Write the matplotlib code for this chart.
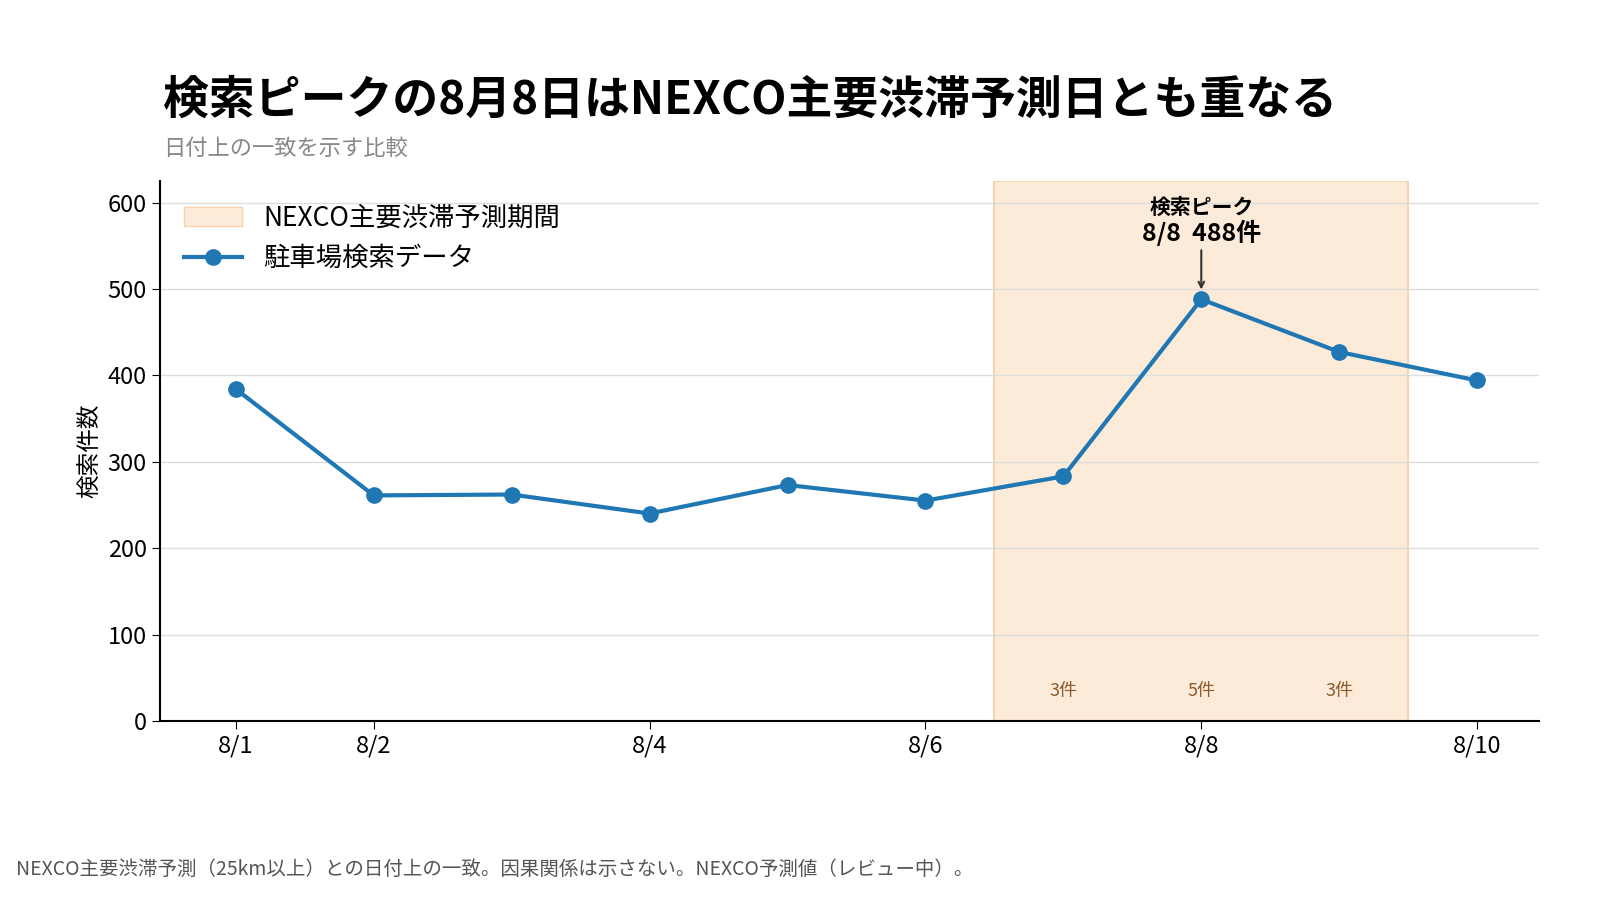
import matplotlib.pyplot as plt
from matplotlib.patches import Patch
from matplotlib.lines import Line2D

plt.rcParams['font.family'] = ['Noto Sans CJK JP', 'DejaVu Sans']

days = [1, 2, 3, 4, 5, 6, 7, 8, 9, 10]
searches = [384, 261, 262, 240, 273, 255, 283, 488, 427, 394]
tick_days = [1, 2, 4, 6, 8, 10]
tick_labels = ['8/1', '8/2', '8/4', '8/6', '8/8', '8/10']
nexco_days = [7, 8, 9]
nexco_counts = ['3件', '5件', '3件']

fig = plt.figure(figsize=(16, 9), dpi=100)
ax = fig.add_axes([0.100, 0.199, 0.862, 0.600])

ax.axvspan(min(nexco_days) - 0.5, max(nexco_days) + 0.5, color='#fdebd9',
           ec='#f8d3ad', lw=1.5, zorder=0)
ax.plot(days, searches, color='#1f77b4', lw=3, marker='o', ms=11, zorder=3)
for d, c in zip(nexco_days, nexco_counts):
    ax.text(d, 35, c, ha='center', va='center', fontsize=13, color='#8c5a2b')

peak = searches.index(max(searches))
ax.annotate('', xy=(days[peak], searches[peak] + 8), xytext=(days[peak], 548),
            arrowprops=dict(arrowstyle='->', color='#333333', lw=1.5))
ax.text(days[peak], 582, '検索ピーク', ha='center', va='bottom', fontsize=15, fontweight='bold')
ax.text(days[peak], 580, f'8/8  {max(searches)}件', ha='center', va='top', fontsize=18, fontweight='bold')

ax.set_xlim(0.45, 10.45)
ax.set_ylim(0, 625)
ax.set_yticks(range(0, 601, 100))
ax.set_xticks(tick_days)
ax.set_xticklabels(tick_labels)
ax.tick_params(labelsize=17, length=6)
ax.grid(axis='y', color='#dddddd', lw=1)
ax.set_axisbelow(True)
for s in ['top', 'right']:
    ax.spines[s].set_visible(False)
ax.spines['left'].set_linewidth(1.5)
ax.spines['bottom'].set_linewidth(1.5)
ax.set_ylabel('検索件数', fontsize=17)

handles = [Patch(facecolor='#fdebd9', edgecolor='#f8d3ad', label='NEXCO主要渋滞予測期間'),
           Line2D([], [], color='#1f77b4', lw=3, marker='o', ms=11, label='駐車場検索データ')]
ax.legend(handles=handles, loc='upper left', frameon=False, fontsize=19,
          bbox_to_anchor=(0.0, 1.0), handlelength=2.2)

fig.text(0.102, 0.888, '検索ピークの8月8日はNEXCO主要渋滞予測日とも重なる',
         fontsize=33, fontweight='bold', va='center')
fig.text(0.102, 0.835, '日付上の一致を示す比較', fontsize=16, color='#888888', va='center')
fig.text(0.01, 0.034, 'NEXCO主要渋滞予測（25km以上）との日付上の一致。因果関係は示さない。NEXCO予測値（レビュー中）。',
         fontsize=14, color='#555555', va='center')

fig.savefig('out.png')
